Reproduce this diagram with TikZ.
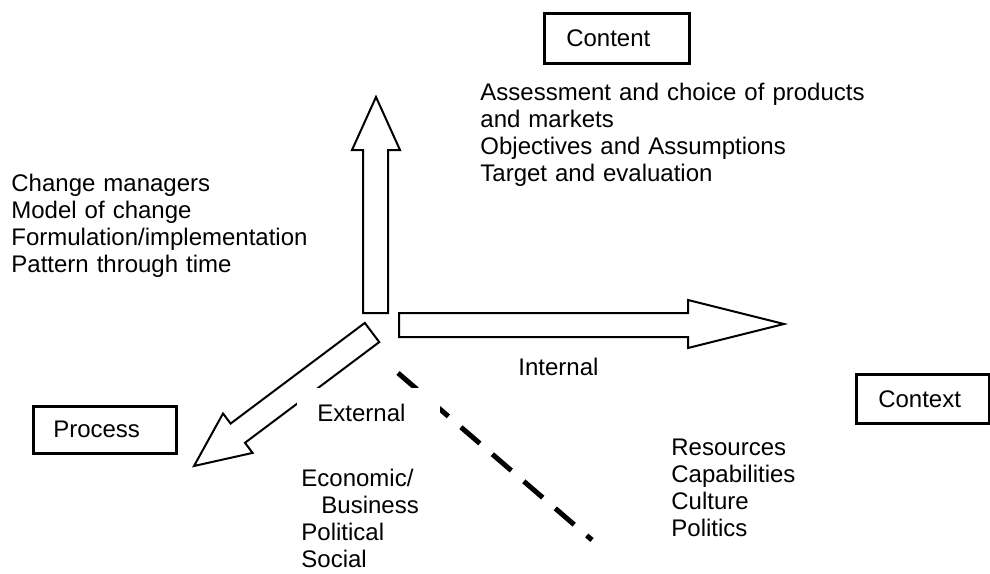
\documentclass[tikz,border=0pt]{standalone}
\usepackage{fontspec}
\setmainfont{Liberation Sans}
\begin{document}
\begin{tikzpicture}[x=0.5pt,y=-0.5pt,
  txt/.style={anchor=base west, inner sep=0pt, font=\fontsize{12}{13.65}\selectfont, align=left, text width=200pt},
  frame/.style={draw, line width=1.25pt, anchor=north west, inner ysep=0pt, align=left, font=\fontsize{12}{13.65}\selectfont},
  blockarrow/.style={draw, line width=1pt, fill=white, line join=miter},
  dashline/.style={line width=2.5pt, dash pattern=on 12.5pt off 8.25pt}
]
\useasboundingbox (0,0) rectangle (990,573);

% boxes
\node (content) [frame, inner xsep=11pt, text width=50.5pt, minimum height=25pt] at (543,12) {Content};
\node (process) [frame, inner xsep=10pt, text width=51.5pt, minimum height=23.5pt] at (32,405) {Process};
\node (context) [frame, inner xsep=11pt, text width=44.5pt, minimum height=24.5pt] at (855,373) {Context};

% block arrows
\draw[blockarrow] (363,313) -- (363,150) -- (352,150) -- (376,97) -- (400,150) -- (388,150) -- (388,313) -- cycle;
\draw[blockarrow] (399,313) -- (688,313) -- (688,300) -- (784,324) -- (688,348) -- (688,337) -- (399,337) -- cycle;
\draw[blockarrow] (364.8,322.9) -- (230.6,423.6) -- (223,413.5) -- (194,466) -- (252.6,452.9) -- (245,442.8) -- (379.2,342.1) -- cycle;

% dashed boundary
\coordinate (dA) at (398,373);
\coordinate (dB) at (592,540);
\draw[dashline] (dA) -- (dB);

% labels
\node (external) [anchor=base west, inner sep=0pt, fill=white, text height=16.5pt, text depth=4pt, text width=71.5pt, font=\fontsize{12}{13.65}\selectfont, align=left] at (297,421) {\hspace*{10pt}External};
\node (internal) [txt] at (518,375) {Internal};

\node (proc) [txt] at (11,191) {Change managers\\Model of change\\Formulation/implementation\\Pattern through time};
\node (cont) [txt] at (480,100) {Assessment and choice of products\\and markets\\Objectives and Assumptions\\Target and evaluation};
\node (ext) [txt] at (301,486) {Economic/\\\hspace*{10pt}Business\\Political\\Social};
\node (int) [txt] at (671,455) {Resources\\Capabilities\\Culture\\Politics};
\end{tikzpicture}
\end{document}
